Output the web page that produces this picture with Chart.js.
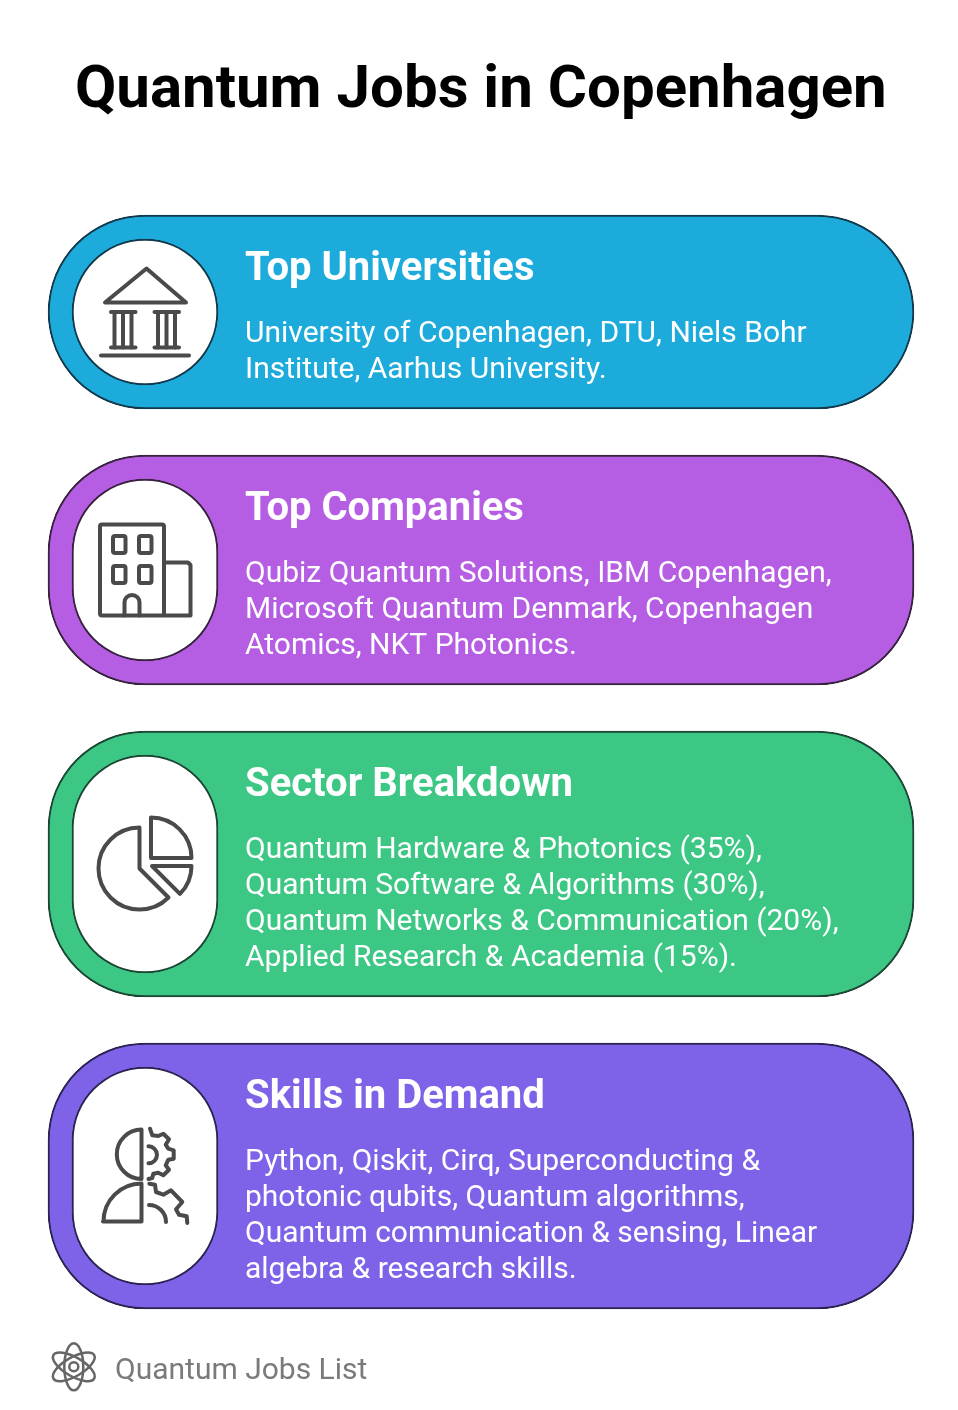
<!DOCTYPE html>
<html>
<head>
<meta charset="utf-8">
<title>Quantum Jobs in Copenhagen</title>
<script src="https://cdn.jsdelivr.net/npm/chart.js@4"></script>
<style>
html, body { margin: 0; padding: 0; background: #fff; }
#wrap { position: relative; width: 958px; height: 1410px; }
canvas { display: block; }
</style>
</head>
<body>
<div id="wrap"><canvas id="myChart" width="958" height="1410"></canvas></div>
<script>
var chartTitle = 'Quantum Jobs in Copenhagen';
var footerText = 'Quantum Jobs List';
var categories = ['Top Universities', 'Top Companies', 'Sector Breakdown', 'Skills in Demand'];
var universityLines = ['University of Copenhagen, DTU, Niels Bohr', 'Institute, Aarhus University.'];
var companyLines = ['Qubiz Quantum Solutions, IBM Copenhagen,', 'Microsoft Quantum Denmark, Copenhagen', 'Atomics, NKT Photonics.'];
var sectorLines = ['Quantum Hardware & Photonics (35%),', 'Quantum Software & Algorithms (30%),', 'Quantum Networks & Communication (20%),', 'Applied Research & Academia (15%).'];
var skillLines = ['Python, Qiskit, Cirq, Superconducting &', 'photonic qubits, Quantum algorithms,', 'Quantum communication & sensing, Linear', 'algebra & research skills.'];
var cardLines = [universityLines, companyLines, sectorLines, skillLines];

// layout, in page pixels
var cardTop = [216, 456, 732, 1044];
var cardFill = ['#1dabdc', '#b55de3', '#3dc785', '#7e63e8'];
var cardEdge = ['#123a4c', '#38233f', '#1c4634', '#2b2452'];
var iconColor = '#4a4a4a';

function cardHeight(i) {
    return 120 + cardLines[i].length * 36;
}

// chart.js draws the border inside the bar, so bars are 1px bigger on each side
var datasets = [];
categories.forEach(function (name, i) {
    var h = cardHeight(i);
    datasets.push({
        label: name,
        data: [{ x: [48, 914], y: cardTop[i] + h / 2 }],
        barThickness: h + 2,
        backgroundColor: cardFill[i],
        borderColor: cardEdge[i],
        borderWidth: 2,
        borderSkipped: false,
        borderRadius: 97,
        grouped: false,
        order: 2
    });
    datasets.push({
        label: name + ' icon',
        data: [{ x: [72, 218], y: cardTop[i] + h / 2 }],
        barThickness: h - 46,
        backgroundColor: '#ffffff',
        borderColor: cardEdge[i],
        borderWidth: 2,
        borderSkipped: false,
        borderRadius: 73,
        grouped: false,
        order: 1
    });
});

function stroke(ctx, fn) {
    ctx.beginPath();
    fn();
    ctx.stroke();
}

function poly(ctx, pts, closed) {
    ctx.beginPath();
    pts.forEach(function (p, k) {
        if (k === 0) { ctx.moveTo(p[0], p[1]); } else { ctx.lineTo(p[0], p[1]); }
    });
    if (closed) { ctx.closePath(); }
    ctx.stroke();
}

function roundRect(ctx, x, y, w, h, r) {
    ctx.beginPath();
    ctx.roundRect(x, y, w, h, r);
    ctx.stroke();
}

function drawBank(ctx) {
    poly(ctx, [[146.5, 268.5], [105, 302.5], [186, 302.5]], true);
    poly(ctx, [[111, 312], [135.5, 312]]);
    poly(ctx, [[154.5, 312], [179, 312]]);
    poly(ctx, [[111, 347.5], [135.5, 347.5]]);
    poly(ctx, [[154.5, 347.5], [179, 347.5]]);
    [114.5, 123, 131.5, 158, 166.5, 175].forEach(function (x) {
        poly(ctx, [[x, 312], [x, 347.5]]);
    });
    poly(ctx, [[101, 355.5], [189, 355.5]]);
}

function drawBuilding(ctx) {
    roundRect(ctx, 100, 524.5, 64, 91, 2);
    poly(ctx, [[164, 562.5], [188, 562.5], [190.5, 565], [190.5, 615.5], [164, 615.5]]);
    [[113, 536], [139, 536], [113, 566], [139, 566]].forEach(function (w) {
        roundRect(ctx, w[0], w[1], 12.5, 17, 2);
    });
    stroke(ctx, function () {
        ctx.moveTo(124.5, 615.5);
        ctx.lineTo(124.5, 602.5);
        ctx.arc(132, 602.5, 7.5, Math.PI, 0);
        ctx.lineTo(139.5, 615.5);
    });
}

function drawPie(ctx) {
    stroke(ctx, function () {
        ctx.moveTo(139.5, 829);
        ctx.lineTo(139.5, 868.5);
        ctx.lineTo(168.5, 897.5);
        ctx.arc(139.5, 868.5, 41, Math.PI / 4, -Math.PI / 2);
    });
    stroke(ctx, function () {
        ctx.moveTo(151, 818);
        ctx.lineTo(151, 858);
        ctx.lineTo(191.5, 858);
        ctx.arc(151, 858, 40.5, 0, -Math.PI / 2, true);
        ctx.closePath();
    });
    stroke(ctx, function () {
        ctx.moveTo(152, 866);
        ctx.lineTo(191.5, 866);
        ctx.arc(152, 866, 39.5, 0, Math.PI / 4);
        ctx.closePath();
    });
}

function drawSkills(ctx) {
    stroke(ctx, function () {
        ctx.moveTo(141.5, 1129.5);
        ctx.lineTo(141.5, 1179);
        ctx.arc(141.5, 1154.3, 24.7, Math.PI / 2, -Math.PI / 2);
    });
    stroke(ctx, function () {
        ctx.moveTo(141.5, 1184);
        ctx.lineTo(141.5, 1221.5);
        ctx.lineTo(103, 1221.5);
        ctx.arc(141.5, 1221.5, 38, Math.PI, -Math.PI / 2);
    });
    poly(ctx, [[150, 1128.7], [152.3, 1135.3], [158.3, 1136], [163.3, 1133.7], [169, 1139.3], [165.7, 1144.7], [168.3, 1148.7], [173.7, 1150.3], [173.7, 1158.7], [168.3, 1159.7], [165.7, 1165.3], [169, 1169.7], [163.3, 1175.3], [158.3, 1172.7], [153.3, 1173.7], [152.3, 1178], [148.5, 1179]]);
    stroke(ctx, function () {
        ctx.arc(148.5, 1154.8, 8.5, -Math.PI / 2, Math.PI / 2);
    });
    poly(ctx, [[149.3, 1183.7], [155, 1184.7], [156, 1192], [163.3, 1194.7], [171, 1190.3], [182.3, 1202], [176, 1209.3], [179, 1214.7], [186.7, 1216.3], [187.3, 1223]]);
    stroke(ctx, function () {
        ctx.arc(149, 1222, 17, -Math.PI / 2, 0);
    });
}

function drawAtom(ctx) {
    stroke(ctx, function () { ctx.arc(73.8, 1366.8, 4.5, 0, Math.PI * 2); });
    [0, Math.PI / 3, -Math.PI / 3].forEach(function (a) {
        stroke(ctx, function () {
            ctx.ellipse(73.8, 1366.8, 9.5, 23.5, a, 0, Math.PI * 2);
        });
    });
}

var infographic = {
    id: 'infographic',
    afterDatasetsDraw: function (chart) {
        var ctx = chart.ctx;
        ctx.save();

        ctx.lineCap = 'round';
        ctx.lineJoin = 'round';
        ctx.strokeStyle = iconColor;
        ctx.lineWidth = 4;
        drawBank(ctx);
        drawBuilding(ctx);
        drawPie(ctx);
        drawSkills(ctx);
        ctx.strokeStyle = '#666666';
        ctx.lineWidth = 2.5;
        drawAtom(ctx);

        ctx.textBaseline = 'alphabetic';
        ctx.textAlign = 'left';
        ctx.fillStyle = '#000000';
        ctx.font = '700 60px Roboto';
        ctx.fillText(chartTitle, 75, 107);

        categories.forEach(function (name, i) {
            ctx.fillStyle = '#ffffff';
            ctx.font = '700 40px Roboto';
            ctx.fillText(name, 245, cardTop[i] + 64);
            ctx.font = '400 30px Roboto';
            cardLines[i].forEach(function (line, k) {
                ctx.fillText(line, 245, cardTop[i] + 126 + k * 36);
            });
        });

        ctx.fillStyle = '#7a7a7a';
        ctx.font = '400 30px Roboto';
        ctx.fillText(footerText, 115, 1379);
        ctx.restore();
    }
};

var ctx = document.getElementById('myChart');
var myChart = new Chart(ctx, {
    type: 'bar',
    data: { datasets: datasets },
    plugins: [infographic],
    options: {
        indexAxis: 'y',
        responsive: false,
        animation: false,
        layout: { padding: 0 },
        plugins: { legend: { display: false }, tooltip: { enabled: false }, title: { display: false } },
        scales: {
            x: { type: 'linear', display: false, min: 0, max: 958 },
            y: { type: 'linear', display: false, min: 0, max: 1410, reverse: true, offset: false }
        }
    }
});
</script>
</body>
</html>
